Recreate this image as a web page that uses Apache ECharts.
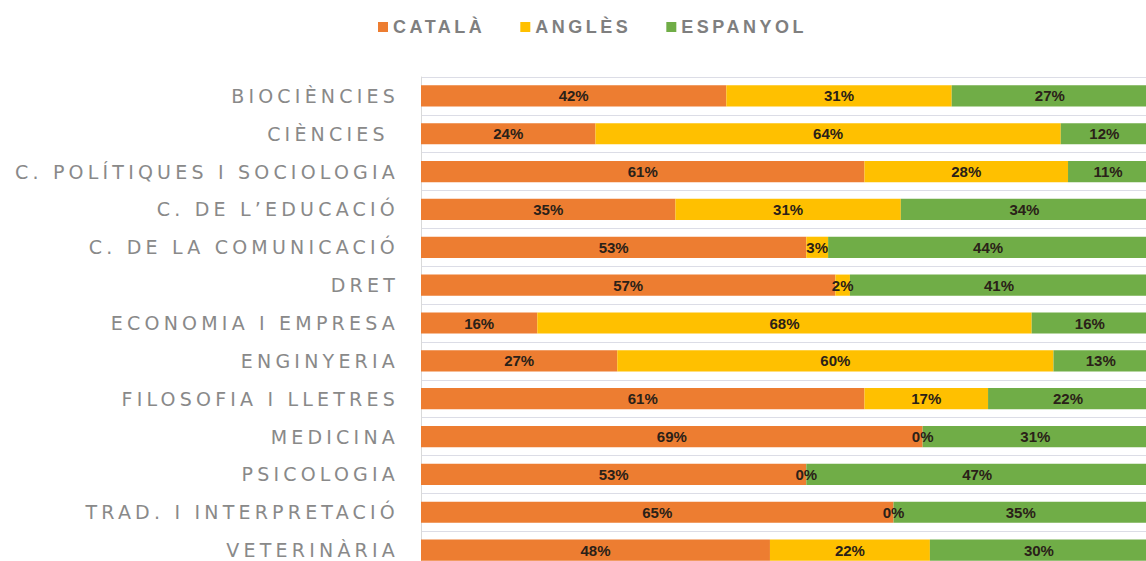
<!DOCTYPE html>
<html>
<head>
<meta charset="utf-8">
<script src="https://cdn.jsdelivr.net/npm/echarts@6/dist/echarts.min.js"></script>
<style>
  html, body { margin: 0; padding: 0; background: #fff; overflow: hidden; }
  #chart { width: 1148px; height: 569px; }
  /* spaced-out gray captions like the original */
  #chart text[fill="#898989"] { letter-spacing: 4.2px; }
  #chart text[fill="#7f7f7f"] { letter-spacing: 3.5px; }
</style>
</head>
<body>
<div id="chart"></div>
<script>
const categories = [
  'BIOCIÈNCIES',
  'CIÈNCIES ',
  'C. POLÍTIQUES I SOCIOLOGIA',
  'C. DE L’EDUCACIÓ',
  'C. DE LA COMUNICACIÓ',
  'DRET',
  'ECONOMIA I EMPRESA',
  'ENGINYERIA',
  'FILOSOFIA I LLETRES',
  'MEDICINA',
  'PSICOLOGIA',
  'TRAD. I INTERPRETACIÓ',
  'VETERINÀRIA'
]
const catala = [42, 24, 61, 35, 53, 57, 16, 27, 61, 69, 53, 65, 48]
const angles = [31, 64, 28, 31, 3, 2, 68, 60, 17, 0, 0, 0, 22]
const espanyol = [27, 12, 11, 34, 44, 41, 16, 13, 22, 31, 47, 35, 30]

const chart = echarts.init(document.getElementById('chart'), null, { renderer: 'svg' })

function makeSeries(name, data, color) {
  return {
    name: name,
    type: 'bar',
    stack: 'total',
    barCategoryGap: '44%',
    data: data,
    itemStyle: { color: color },
    label: {
      show: true,
      position: 'inside',
      formatter: '{c}%',
      color: '#2a2118',
      fontSize: 15,
      fontWeight: 'bold',
      fontFamily: 'Liberation Sans'
    },
    emphasis: { disabled: true }
  }
}

chart.setOption({
  animation: false,
  legend: {
    top: 13,
    left: 373,
    itemWidth: 10,
    itemHeight: 10,
    itemGap: 56,
    icon: 'rect',
    textStyle: {
      color: '#7f7f7f',
      fontSize: 18,
      fontWeight: 'bold',
      fontFamily: 'Liberation Sans'
    },
    data: ['CATALÀ', 'ANGLÈS', 'ESPANYOL']
  },
  grid: {
    left: 421,
    right: 0,
    top: 77,
    bottom: 0,
    containLabel: false
  },
  xAxis: {
    type: 'value',
    min: 0,
    max: 100,
    axisLabel: { show: false },
    axisLine: { show: false },
    axisTick: { show: false },
    splitLine: { show: false }
  },
  yAxis: {
    type: 'category',
    inverse: true,
    data: categories,
    axisLine: { show: true, lineStyle: { color: '#d9d9d9' } },
    axisTick: { show: false },
    splitLine: { show: true, lineStyle: { color: '#dcdde6' } },
    axisLabel: {
      margin: 22,
      color: '#898989',
      fontSize: 19,
      fontFamily: 'DejaVu Sans'
    }
  },
  series: [
    makeSeries('CATALÀ', catala, '#ED7D31'),
    makeSeries('ANGLÈS', angles, '#FFC000'),
    makeSeries('ESPANYOL', espanyol, '#70AD47')
  ]
})
</script>
</body>
</html>
